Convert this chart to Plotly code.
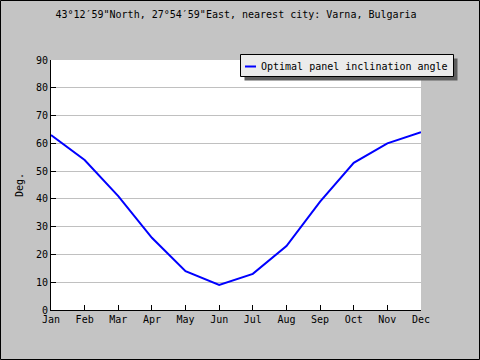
import plotly.graph_objects as go

months = ["Jan", "Feb", "Mar", "Apr", "May", "Jun", "Jul", "Aug", "Sep", "Oct", "Nov", "Dec"]
angles = [63, 54, 41, 26, 14, 9, 13, 23, 39, 53, 60, 64]
series_name = "Optimal panel inclination angle"
title_text = "43°12′59\"North, 27°54′59\"East, nearest city: Varna, Bulgaria"

W, H = 480, 360
L, R, T, B = 51, 59, 60, 50
pw, ph = W - L - R, H - T - B

def px(x):
    return (x - L) / pw

def py(y):
    return (H - B - y) / ph

FONT = "DejaVu Sans Mono"

fig = go.Figure()
fig.add_trace(go.Scatter(x=months, y=angles, mode="lines", name=series_name,
                         line=dict(color="#0000FF", width=2), showlegend=False))

# manual legend
lx0, ly0, lx1, ly1 = 240.5, 54.5, 453.5, 76.5
fig.add_shape(type="rect", xref="paper", yref="paper",
              x0=px(lx0 + 4), x1=px(lx1 + 4), y0=py(ly1 + 4), y1=py(ly0 + 4),
              fillcolor="#5E5E5E", line=dict(width=0), layer="above")
fig.add_shape(type="rect", xref="paper", yref="paper",
              x0=px(lx0), x1=px(lx1), y0=py(ly1), y1=py(ly0),
              fillcolor="#EBEBEB", line=dict(color="black", width=1), layer="above")
fig.add_shape(type="line", xref="paper", yref="paper",
              x0=px(245), x1=px(256), y0=py(66.5), y1=py(66.5),
              line=dict(color="#0000FF", width=2), layer="above")
fig.add_annotation(text=series_name, xref="paper", yref="paper",
                   x=px(259), y=py(66), xanchor="left", yanchor="middle",
                   showarrow=False, font=dict(family=FONT, size=10, color="black"))
# outer border
fig.add_shape(type="rect", xref="paper", yref="paper",
              x0=px(0.5), x1=px(W - 0.5), y0=py(H - 0.5), y1=py(0.5),
              line=dict(color="black", width=1), layer="above")

fig.update_layout(
    width=W, height=H,
    margin=dict(l=L, r=R, t=T, b=B, autoexpand=False),
    paper_bgcolor="#C4C4C4",
    plot_bgcolor="white",
    font=dict(family=FONT, size=10, color="black"),
    title=dict(text=title_text, x=0.5, xref="paper", y=1 - 14 / H, yanchor="middle",
               font=dict(family=FONT, size=10, color="black")),
    showlegend=False,
    xaxis=dict(type="category", range=[0, 11], showgrid=False,
               showline=True, linecolor="black", linewidth=1,
               ticks="inside", ticklen=5, tickcolor="black",
               tickfont=dict(family=FONT, size=10), zeroline=False, fixedrange=True),
    yaxis=dict(range=[0, 90], dtick=10, showgrid=True, gridcolor="#C0C0C0", gridwidth=1,
               showline=True, linecolor="black", linewidth=1,
               ticks="inside", ticklen=5, tickcolor="black",
               tickfont=dict(family=FONT, size=10), zeroline=False,
               title=dict(text="Deg.", font=dict(family=FONT, size=10), standoff=10),
               fixedrange=True),
)

fig.write_html("out.html", config={"displayModeBar": False},
               post_script="document.body.style.margin='0';document.body.style.overflow='hidden';")
